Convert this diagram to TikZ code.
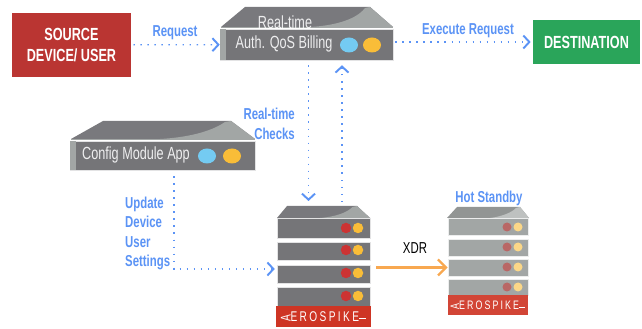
\documentclass[tikz,border=0pt]{standalone}
\usepackage{graphicx}
\usepackage{fontspec}
\setmainfont[FakeStretch=0.72]{Liberation Sans}
\usetikzlibrary{arrows.meta,shapes.geometric}
\definecolor{linkblue}{HTML}{5B93F5}
\definecolor{srcred}{HTML}{BA3532}
\definecolor{dstgreen}{HTML}{2AA55A}
\definecolor{logored}{HTML}{CE3524}
\definecolor{srvgray}{HTML}{757578}
\definecolor{lidgray}{HTML}{79797D}
\definecolor{sheen}{HTML}{A2A6A5}
\definecolor{ledblue}{HTML}{74CBF2}
\definecolor{ledyellow}{HTML}{F9BD38}
\definecolor{ledred}{HTML}{CC3333}
\definecolor{xdrorange}{HTML}{F8A850}
\newcommand{\logotext}{\addfontfeature{LetterSpace=17}\rotatebox{90}{A}EROSPIKE\rule[0.3ex]{0.5em}{0.35pt}}

\begin{document}
\begin{tikzpicture}
%\draw[very thin, color = gray](0, 0) grid (12, 6);
\useasboundingbox (0, 0) rectangle (12.84, 6.58);
\tikzstyle{endbox} = [rectangle, text = white, font = \normalsize\bfseries, align = center];
\tikzstyle{body} = [rectangle, fill = srvgray, draw = white!80!srvgray, line width = 0.3pt];
\tikzstyle{slot} = [body, minimum width = 1.86cm];
\tikzstyle{spare} = [rectangle, fill = sheen, draw = white!80!sheen, line width = 0.3pt, minimum width = 1.6cm];
\tikzstyle{logo} = [rectangle, fill = logored, text = white, inner sep = 0pt];
\tikzstyle{lamp} = [ellipse, minimum width = 0.36cm, minimum height = 0.3cm, inner sep = 0pt];
\tikzstyle{led} = [circle, minimum size = 0.21cm, inner sep = 0pt];
\tikzstyle{dimled} = [led, minimum size = 0.18cm];
\tikzstyle{link} = [draw, linkblue, line width = 0.7pt, dash pattern = on 0.8pt off 3.2pt,
  -{Straight Barb[length = 1.2mm, width = 2.6mm, line width = 1.1pt]}];
\tikzstyle{caption} = [text = linkblue, font = \small\bfseries, align = center];
\tikzstyle{plate} = [text = white!88!srvgray, font = \normalsize];

\node [endbox, fill = srcred, minimum width = 2.38cm, minimum height = 1.28cm] at (1.43, 5.68) (source) {SOURCE \\ DEVICE/ USER};
\node [endbox, fill = dstgreen, minimum width = 2.14cm, minimum height = 0.88cm] at (11.73, 5.74) (dest) {DESTINATION};

% real-time server
\fill [lidgray] (4.42, 6.04) -- (4.90, 6.44) -- (7.40, 6.44) -- (7.86, 6.04) -- cycle;
\fill [sheen] (6.2, 6.04) .. controls (6.9, 6.08) and (7.2, 6.28) .. (7.3, 6.42) -- (7.40, 6.44) -- (7.86, 6.04) -- cycle;
\draw [sheen, line width = 0.8pt] (4.42, 6.03) -- (7.86, 6.03);
\node [body, minimum width = 3.46cm, minimum height = 0.62cm] at (6.13, 5.69) (authbody) {};
\fill [sheen] (authbody.north west) rectangle ([xshift = 0.12cm]authbody.south west);
\node [plate] at (5.70, 6.14) (authtop) {Real-time};
\node [plate] at (5.68, 5.70) (authtext) {Auth. QoS Billing};
\node [lamp, fill = ledblue] at (6.98, 5.68) (authblue) {};
\node [lamp, fill = ledyellow] at (7.44, 5.68) (authyellow) {};

% config server
\fill [lidgray] (1.42, 3.80) -- (2.06, 4.16) -- (4.62, 4.16) -- (5.10, 3.80) -- cycle;
\fill [sheen] (3.2, 3.80) .. controls (3.9, 3.84) and (4.3, 4.0) .. (4.5, 4.14) -- (4.62, 4.16) -- (5.10, 3.80) -- cycle;
\draw [sheen, line width = 0.8pt] (1.42, 3.79) -- (5.10, 3.79);
\node [body, minimum width = 3.70cm, minimum height = 0.58cm] at (3.25, 3.47) (configbody) {};
\fill [sheen] (configbody.north west) rectangle ([xshift = 0.12cm]configbody.south west);
\node [plate] at (2.72, 3.48) (configtext) {Config Module App};
\node [lamp, fill = ledblue] at (4.14, 3.46) (configblue) {};
\node [lamp, fill = ledyellow] at (4.64, 3.46) (configyellow) {};

% main cluster
\fill [lidgray] (5.54, 2.22) -- (5.74, 2.46) -- (7.14, 2.46) -- (7.40, 2.22) -- cycle;
\fill [sheen] (6.4, 2.22) .. controls (6.75, 2.25) and (6.95, 2.34) .. (7.05, 2.44) -- (7.14, 2.46) -- (7.40, 2.22) -- cycle;
\coordinate (mainlid) at (6.47, 2.46);
\node [slot, minimum height = 0.40cm] at (6.47, 2.02) (maina) {};
\node [slot, minimum height = 0.36cm] at (6.47, 1.56) (mainb) {};
\node [slot, minimum height = 0.36cm] at (6.47, 1.10) (mainc) {};
\node [slot, minimum height = 0.38cm] at (6.47, 0.65) (maind) {};
\node [logo, font = \footnotesize, minimum width = 1.90cm, minimum height = 0.42cm] at (6.47, 0.25) (mainlogo) {\logotext};
\node [led, fill = ledred] at (6.92, 2.02) (mainreda) {};
\node [led, fill = ledyellow] at (7.16, 2.02) (mainyellowa) {};
\node [led, fill = ledred] at (6.92, 1.58) (mainredb) {};
\node [led, fill = ledyellow] at (7.16, 1.58) (mainyellowb) {};
\node [led, fill = ledred] at (6.92, 1.12) (mainredc) {};
\node [led, fill = ledyellow] at (7.16, 1.12) (mainyellowc) {};
\node [led, fill = ledred] at (6.92, 0.66) (mainredd) {};
\node [led, fill = ledyellow] at (7.16, 0.66) (mainyellowd) {};

% standby cluster
\fill [sheen!90!black] (8.94, 2.22) -- (9.14, 2.44) -- (10.40, 2.44) -- (10.58, 2.22) -- cycle;
\fill [sheen!70!white] (9.8, 2.22) .. controls (10.05, 2.25) and (10.25, 2.34) .. (10.32, 2.42) -- (10.40, 2.44) -- (10.58, 2.22) -- cycle;
\node [spare, minimum height = 0.34cm] at (9.76, 2.05) (sparea) {};
\node [spare, minimum height = 0.34cm] at (9.76, 1.63) (spareb) {};
\node [spare, minimum height = 0.34cm] at (9.76, 1.23) (sparec) {};
\node [spare, minimum height = 0.32cm] at (9.76, 0.84) (spared) {};
\node [logo, font = \scriptsize, fill = logored!92!white, minimum width = 1.60cm, minimum height = 0.40cm] at (9.76, 0.48) (sparelogo) {\logotext};
\node [dimled, fill = ledred!55!sheen] at (10.14, 2.04) (spareredone) {};
\node [dimled, fill = ledyellow!60!white] at (10.36, 2.04) (spareyellowa) {};
\node [dimled, fill = ledred!55!sheen] at (10.14, 1.64) (spareredb) {};
\node [dimled, fill = ledyellow!60!white] at (10.36, 1.64) (spareyellowb) {};
\node [dimled, fill = ledred!55!sheen] at (10.14, 1.24) (spareredc) {};
\node [dimled, fill = ledyellow!60!white] at (10.36, 1.24) (spareyellowc) {};
\node [dimled, fill = ledred!55!sheen] at (10.14, 0.84) (spareredd) {};
\node [dimled, fill = ledyellow!60!white] at (10.36, 0.84) (spareyellowd) {};

% connectors
\coordinate (downx) at (6.17, 0);
\coordinate (upx) at (6.84, 0);
\coordinate (settingsturn) at (3.48, 1.20);
\path [link, shorten <= 0.04cm] (source) -- (authbody);
\path [link, shorten <= 0.04cm, shorten >= 0.04cm] (dest.west -| authbody.east) -- (dest.west);
\path [link, shorten <= 0.1cm, shorten >= 0.1cm] (authbody.south -| downx) -- (mainlid -| downx);
\path [link, shorten <= 0.08cm, shorten >= 0.1cm] (mainlid -| upx) -- (authbody.south -| upx);
\path [link, shorten <= 0.12cm, shorten >= 0.04cm] (configbody.south -| settingsturn) -- (settingsturn) -- (mainc.west |- settingsturn);
\path [draw, line width = 1.4pt, color = xdrorange, shorten <= 0.12cm,
  -{Straight Barb[length = 1.6mm, width = 3.2mm, line width = 1.4pt]}] (sparec.west -| mainc.east) -- (sparec.west);

\node [caption] at (3.50, 5.92) (requestlabel) {Request};
\node [caption] at (9.36, 5.96) (executelabel) {Execute Request};
\node [caption, align = right, anchor = east] at (6.02, 4.10) (checkslabel) {Real-time \\ Checks};
\node [caption, align = left, anchor = west] at (2.38, 1.91) (updatelabel) {Update \\ Device \\ User \\ Settings};
\node [caption] at (9.78, 2.62) (standbylabel) {Hot Standby};
\node [font = \small] at (8.30, 1.62) (xdrlabel) {XDR};
\end{tikzpicture}
\end{document}
